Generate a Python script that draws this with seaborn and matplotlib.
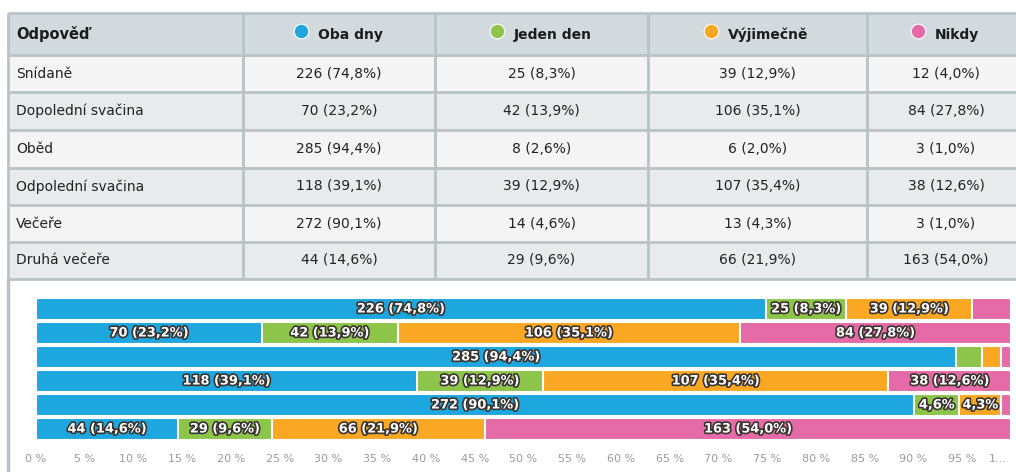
import numpy as np
import pandas as pd
import matplotlib
matplotlib.use("Agg")
import matplotlib.pyplot as plt
import matplotlib.patheffects as pe
from matplotlib.patches import Rectangle
import seaborn as sns

meals = ["Snídaně", "Dopolední svačina", "Oběd", "Odpolední svačina", "Večeře", "Druhá večeře"]
answers = ["Oba dny", "Jeden den", "Výjimečně", "Nikdy"]
oba_dny = [226, 70, 285, 118, 272, 44]
jeden_den = [25, 42, 8, 39, 14, 29]
vyjimecne = [39, 106, 6, 107, 13, 66]
nikdy = [12, 84, 3, 38, 3, 163]
colors = ["#1ea7df", "#8cc54a", "#faa723", "#e46ba7"]
xtick_labels = ["0 %", "5 %", "10 %", "15 %", "20 %", "25 %", "30 %", "35 %", "40 %", "45 %",
                "50 %", "55 %", "60 %", "65 %", "70 %", "75 %", "80 %", "85 %", "90 %", "95 %"]
last_tick = "1..."

df = pd.DataFrame({"meal": meals, "Oba dny": oba_dny, "Jeden den": jeden_den,
                   "Výjimečně": vyjimecne, "Nikdy": nikdy})
counts = df[answers]
pct = counts.div(counts.sum(axis=1), axis=0) * 100


def fmt(v):
    return f"{v:.1f}".replace(".", ",")


sns.set_style("white")
plt.rcParams["font.family"] = ["DejaVu Sans"]

fig = plt.figure(figsize=(10.16, 4.72), dpi=100)
renderer = fig.canvas.get_renderer()

# table drawn in pixel coords
tab = fig.add_axes([0, 0, 1, 1])
tab.set_xlim(0, 1016)
tab.set_ylim(472, 0)
tab.axis("off")

col_x = [8, 243, 435, 648, 867, 1030]
row_y = [13, 55, 92, 130, 168, 205, 242, 279]
centers = [339, 541.5, 757.5, 946]
grid_col = "#b7c3c7"

tab.add_patch(Rectangle((col_x[0], row_y[0]), col_x[-1] - col_x[0], row_y[1] - row_y[0],
                        facecolor="#d3dadd", edgecolor="none"))
for i in range(len(meals)):
    bg = "#f4f4f4" if i % 2 == 0 else "#e8eaeb"
    tab.add_patch(Rectangle((col_x[0], row_y[i + 1]), col_x[-1] - col_x[0],
                            row_y[i + 2] - row_y[i + 1], facecolor=bg, edgecolor="none"))
for y in row_y:
    tab.plot([col_x[0], col_x[-1]], [y, y], color=grid_col, lw=2, solid_capstyle="butt")
for x in col_x:
    tab.plot([x, x], [row_y[0], row_y[-1]], color=grid_col, lw=2, solid_capstyle="butt")
# left border of the chart panel
tab.plot([col_x[0], col_x[0]], [row_y[-1], 472], color=grid_col, lw=2.5)

hy = (row_y[0] + row_y[1]) / 2
tab.text(16, hy, "Odpověď", ha="left", va="center", fontsize=10.5, fontweight="bold", color="#1c1c1c")
for j, name in enumerate(answers):
    cx = centers[j]
    t = tab.text(cx + 11, hy + 1, name, ha="center", va="center", fontsize=10, fontweight="bold",
                 color="#1c1c1c")
    w = t.get_window_extent(renderer=renderer).width
    tab.scatter([cx + 11 - w / 2 - 17], [hy - 3], s=110, color=colors[j], edgecolor="white",
                lw=0.8, zorder=3)

for i, meal in enumerate(meals):
    ry = (row_y[i + 1] + row_y[i + 2]) / 2
    tab.text(16, ry, meal, ha="left", va="center", fontsize=10, color="#222222")
    for j, name in enumerate(answers):
        tab.text(centers[j], ry, f"{counts.iloc[i, j]} ({fmt(pct.iloc[i, j])}%)", ha="center",
                 va="center", fontsize=10, color="#222222")

# stacked bar chart
ax = fig.add_axes([36 / 1016, 31 / 472, 975 / 1016, 144 / 472])
cum = pct.cumsum(axis=1)
for j in range(len(answers) - 1, -1, -1):
    sns.barplot(x=cum[answers[j]], y=df["meal"], orient="h", color=colors[j], width=0.95,
                edgecolor="white", linewidth=1.5, saturation=1, ax=ax, zorder=2)

stroke = [pe.withStroke(linewidth=2.4, foreground="#3a3530")]
for i in range(len(meals)):
    for j in range(len(answers)):
        p = pct.iloc[i, j]
        if p < 4.2:
            continue
        left = cum.iloc[i, j] - p
        if p < 5:
            label = f"{fmt(p)}%"
        else:
            label = f"{counts.iloc[i, j]} ({fmt(p)}%)"
        ax.text(left + p / 2, i, label, ha="center", va="center", fontsize=9.3, fontweight="bold",
                color="white", path_effects=stroke, zorder=5)

ax.set_xlim(0, 100)
ax.set_ylim(5.5, -0.5)
ax.set_xticks(np.arange(0, 100, 5))
ax.set_xticklabels(xtick_labels, color="#9a9a9a", fontsize=8)
ax.annotate(last_tick, xy=(98.6, 0), xycoords=ax.get_xaxis_transform(), xytext=(0, -9),
            textcoords="offset points", ha="center", va="top", color="#9a9a9a", fontsize=8)
ax.set_yticks([0, 2.5, 5])
ax.set_yticklabels([])
ax.tick_params(axis="y", length=10, color="#dde3f0", width=1)
ax.tick_params(axis="x", length=0, pad=9)
ax.grid(axis="x", color="#f0f0f0", lw=0.8, zorder=0)
ax.set_axisbelow(True)
ax.set_xlabel("")
ax.set_ylabel("")
sns.despine(ax=ax, left=True, bottom=True)

fig.savefig("out.png", dpi=100)
